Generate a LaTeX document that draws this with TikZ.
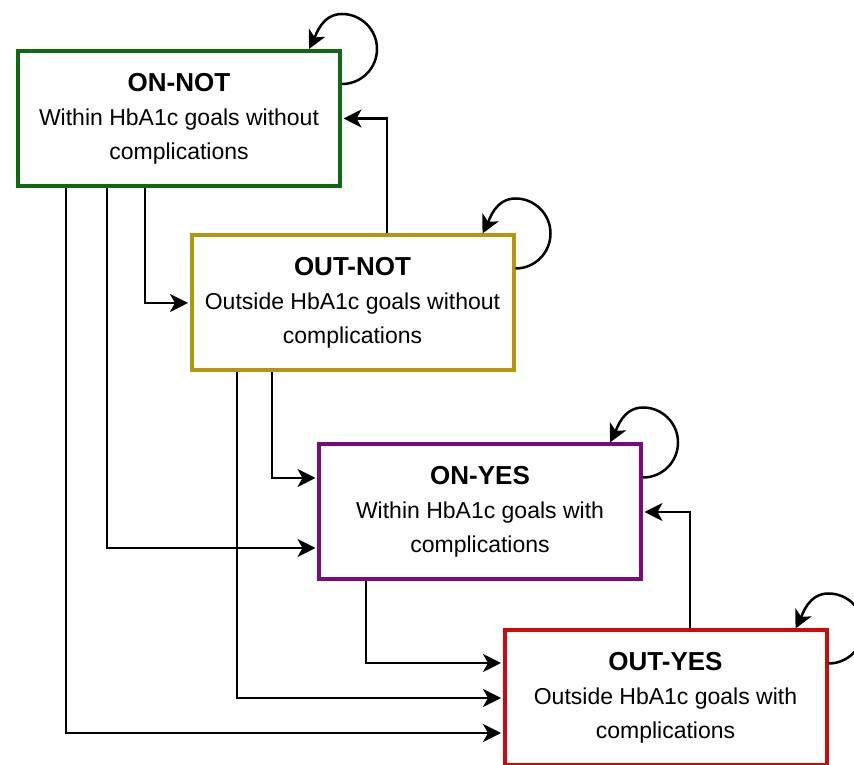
\documentclass[tikz,border=0pt]{standalone}
\usepackage{fontspec}
\setmainfont{Liberation Sans}
\usepackage{xcolor}
\usetikzlibrary{arrows.meta}
\definecolor{onnotcol}{RGB}{15,105,15}
\definecolor{outnotcol}{RGB}{180,150,15}
\definecolor{onyescol}{RGB}{125,10,125}
\definecolor{outyescol}{RGB}{205,10,10}
\tikzset{
  statenode/.style = {shape=rectangle, draw, line width=4pt,
                     anchor=center, align=center, inner sep=0pt,
                     minimum width=322pt, minimum height=135pt,
                     font=\fontsize{23}{34}\selectfont},
  transarrow/.style = {line width=2.5pt, -{Stealth[length=18pt,width=18pt,inset=5pt]},
                  shorten >=1.5pt},
  selfloop/.style = {transarrow, shorten >=0pt}
}

\begin{document}
\begin{tikzpicture}[x=1pt,y=1pt]
            \useasboundingbox (0,0) rectangle (854,765);
            \node (onnot) [statenode, draw=onnotcol] at (179,646.5) {\textbf{\fontsize{26}{34}\selectfont ON-NOT}\\Within HbA1c goals without\\complications};
            \node (outnot) [statenode, draw=outnotcol] at (352.5,462) {\textbf{\fontsize{26}{34}\selectfont OUT-NOT}\\Outside HbA1c goals without\\complications};
            \node (onyes) [statenode, draw=onyescol] at (480,253) {\textbf{\fontsize{26}{34}\selectfont ON-YES}\\Within HbA1c goals with\\complications};
            \node (outyes) [statenode, draw=outyescol] at (665.5,67) {\textbf{\fontsize{26}{34}\selectfont OUT-YES}\\Outside HbA1c goals with\\complications};

            \draw [transarrow] ([xshift=-34pt]onnot.south) |- (outnot.west);
            \draw [transarrow] ([xshift=-72pt]onnot.south) |- ([yshift=-36pt]onyes.west);
            \draw [transarrow] ([xshift=-113pt]onnot.south) |- ([yshift=-35pt]outyes.west);
            \draw [transarrow] ([xshift=-80.5pt]outnot.south) |- ([yshift=34pt]onyes.west);
            \draw [transarrow] ([xshift=-115.5pt]outnot.south) |- (outyes.west);
            \draw [transarrow] ([xshift=34.5pt]outnot.north) |- (onnot.east);
            \draw [transarrow] ([xshift=-114pt]onyes.south) |- ([yshift=35pt]outyes.west);
            \draw [transarrow] ([xshift=24.5pt]outyes.north) |- (onyes.east);

            \draw [selfloop] ([yshift=-35pt]onnot.north east) arc[start angle=-90, end angle=90, radius=35pt] .. controls +(-20pt,0pt) and +(7pt,14pt) .. ([xshift=-33pt]onnot.north east);
            \draw [selfloop] ([yshift=-35pt]outnot.north east) arc[start angle=-90, end angle=90, radius=35pt] .. controls +(-20pt,0pt) and +(7pt,14pt) .. ([xshift=-33pt]outnot.north east);
            \draw [selfloop] ([yshift=-35pt]onyes.north east) arc[start angle=-90, end angle=90, radius=35pt] .. controls +(-20pt,0pt) and +(7pt,14pt) .. ([xshift=-33pt]onyes.north east);
            \draw [selfloop] ([yshift=-35pt]outyes.north east) arc[start angle=-90, end angle=90, radius=35pt] .. controls +(-20pt,0pt) and +(7pt,14pt) .. ([xshift=-33pt]outyes.north east);
\end{tikzpicture}
\end{document}
